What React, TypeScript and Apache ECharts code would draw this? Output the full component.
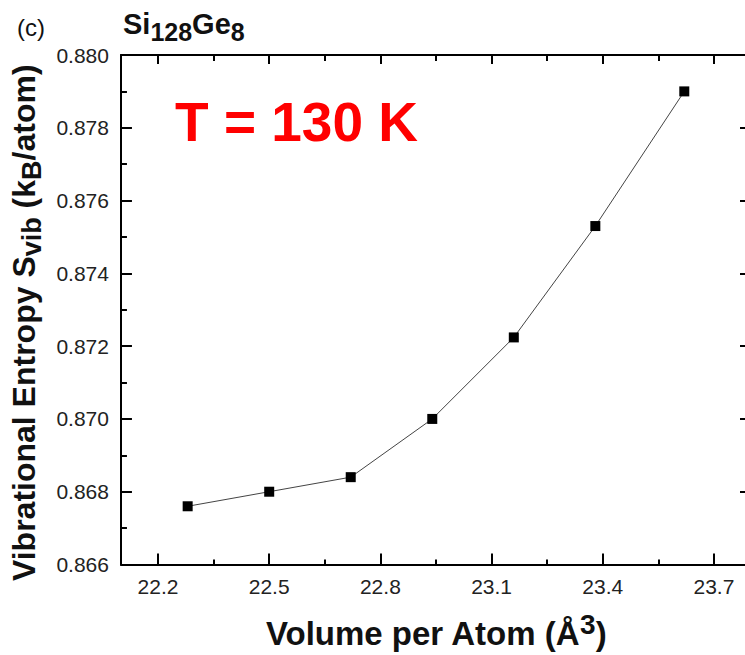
import React, { useEffect, useRef } from "react";
import * as echarts from "echarts";

const volumes = [22.28, 22.5, 22.72, 22.94, 23.16, 23.38, 23.62];
const entropies = [0.8676, 0.868, 0.8684, 0.87, 0.87224, 0.8753, 0.879];
const xMajorTicks = [22.2, 22.5, 22.8, 23.1, 23.4, 23.7];
const xMinorTicks = [22.35, 22.65, 22.95, 23.25, 23.55];

const FONT = "'Liberation Sans', Arial, sans-serif";

export default function App() {
  const ref = useRef<HTMLDivElement>(null);
  useEffect(() => {
    if (!ref.current) return;
    const chart = echarts.init(ref.current, null, { renderer: "svg" });
    const axisLine = { show: true, lineStyle: { color: "#000", width: 2 } };
    const baseX = { type: "value", min: 22.1, max: 23.8, splitLine: { show: false }, gridIndex: 0 };
    const option: any = {
      animation: false,
      backgroundColor: "#fff",
      textStyle: { fontFamily: FONT },
      grid: { left: 120.7, top: 55, right: 9, bottom: 82.7, containLabel: false },
      xAxis: [
        {
          ...baseX,
          position: "bottom",
          axisLine,
          axisTick: { show: true, inside: true, length: 11, lineStyle: { color: "#000", width: 2 }, customValues: xMajorTicks },
          axisLabel: {
            show: true, customValues: xMajorTicks, formatter: (v: number) => v.toFixed(1),
            color: "#222", fontSize: 21, fontFamily: FONT, margin: 11,
          },
          name: "{t|Volume per Atom (Å}{sup|3}{t|)}",
          nameLocation: "middle",
          nameGap: 46,
          nameTextStyle: {
            rich: {
              t: { fontSize: 33, fontWeight: "bold", fontFamily: FONT, color: "#111" },
              sup: { fontSize: 28, fontWeight: "bold", fontFamily: FONT, color: "#111", padding: [0, 0, 18, 0] },
            },
          },
        },
        {
          ...baseX,
          position: "bottom",
          axisLine: { show: false },
          axisTick: { show: true, inside: true, length: 5, lineStyle: { color: "#000", width: 2 }, customValues: xMinorTicks },
          axisLabel: { show: false },
        },
        {
          ...baseX,
          position: "top",
          axisLine,
          axisTick: { show: true, inside: true, length: 9, lineStyle: { color: "#000", width: 2 }, customValues: xMajorTicks },
          axisLabel: { show: false },
        },
        {
          ...baseX,
          position: "top",
          axisLine: { show: false },
          axisTick: { show: true, inside: true, length: 6, lineStyle: { color: "#000", width: 2 }, customValues: xMinorTicks },
          axisLabel: { show: false },
        },
      ],
      yAxis: [
        {
          type: "value",
          position: "left",
          min: 0.866,
          max: 0.88,
          interval: 0.002,
          splitLine: { show: false },
          axisLine,
          axisTick: { show: true, inside: true, length: 11, lineStyle: { color: "#000", width: 2 } },
          minorTick: { show: true, splitNumber: 2, length: 6, lineStyle: { color: "#000", width: 2 } },
          axisLabel: { formatter: (v: number) => v.toFixed(3), color: "#222", fontSize: 21, fontFamily: FONT, margin: 12 },
          name: "{t|Vibrational Entropy S}{sub|vib}{t| (k}{sub|B}{t|/atom)}",
          nameLocation: "middle",
          nameRotate: 90,
          nameGap: 72,
          nameTextStyle: {
            padding: [0, 26, 0, 0],
            rich: {
              t: { fontSize: 32, fontWeight: "bold", fontFamily: FONT, color: "#111" },
              sub: { fontSize: 27, fontWeight: "bold", fontFamily: FONT, color: "#111", padding: [16, 0, 0, 0] },
            },
          },
        },
        {
          type: "value",
          position: "right",
          min: 0.866,
          max: 0.88,
          interval: 0.002,
          splitLine: { show: false },
          axisLine,
          axisTick: { show: true, inside: true, length: 11, lineStyle: { color: "#000", width: 2 } },
          minorTick: { show: true, splitNumber: 2, length: 6, lineStyle: { color: "#000", width: 2 } },
          axisLabel: { show: false },
        },
      ],
      graphic: [
        {
          type: "text",
          x: 17,
          y: 27,
          style: { text: "(c)", fontSize: 24, fontFamily: FONT, fill: "#111", verticalAlign: "middle" },
        },
        {
          type: "text",
          left: 123,
          top: 9,
          style: {
            text: "{b|Si}{s|128}{b|Ge}{s|8}",
            rich: {
              b: { fontSize: 29, fontWeight: "bold", fontFamily: FONT, fill: "#111" },
              s: { fontSize: 25, fontWeight: "bold", fontFamily: FONT, fill: "#111", padding: [16, 0, 0, 0] },
            },
          },
        },
        {
          type: "text",
          x: 175,
          y: 122,
          style: {
            text: "T = 130 K",
            fontSize: 55,
            fontWeight: "bold",
            fontFamily: FONT,
            fill: "#ff0000",
            verticalAlign: "middle",
          },
        },
      ],
      series: [
        {
          type: "line",
          xAxisIndex: 0,
          yAxisIndex: 0,
          data: volumes.map((v, i) => [v, entropies[i]]),
          symbol: "rect",
          symbolSize: 10,
          itemStyle: { color: "#000" },
          lineStyle: { color: "#444", width: 1 },
        },
      ],
    };
    chart.setOption(option);
    return () => chart.dispose();
  }, []);
  return (
    <div style={{ position: "fixed", left: 0, top: 0, width: 745, height: 655, overflow: "hidden", background: "#fff" }}>
      <div ref={ref} style={{ width: 760, height: 655 }} />
    </div>
  );
}
